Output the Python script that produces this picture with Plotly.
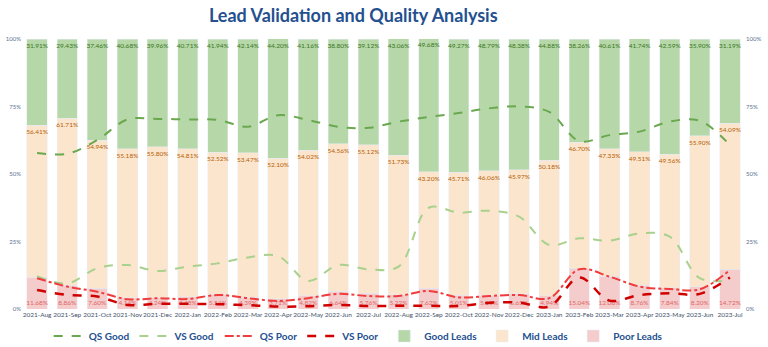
import plotly.graph_objects as go

months = ["2021-Aug","2021-Sep","2021-Oct","2021-Nov","2021-Dec","2022-Jan","2022-Feb","2022-Mar",
          "2022-Apr","2022-May","2022-Jun","2022-Jul","2022-Aug","2022-Sep","2022-Oct","2022-Nov",
          "2022-Dec","2023-Jan","2023-Feb","2023-Mar","2023-Apr","2023-May","2023-Jun","2023-Jul"]

good_leads = [31.91,29.43,37.46,40.68,39.96,40.71,41.94,42.14,44.20,41.16,38.80,39.12,
              43.06,49.68,49.27,48.79,48.38,44.88,38.26,40.61,41.74,42.59,35.90,31.19]
mid_leads = [56.41,61.71,54.94,55.18,55.80,54.81,52.52,53.47,52.10,54.02,54.56,55.12,
             51.73,43.20,45.71,46.06,45.97,50.18,46.70,47.33,49.51,49.56,55.90,54.09]
poor_leads = [11.68,8.86,7.60,4.14,4.24,4.48,5.54,4.39,3.71,4.82,6.64,5.76,
              5.22,7.62,5.01,5.15,5.65,4.94,15.04,12.06,8.76,7.84,8.20,14.72]

qs_good = [57.8,57.5,62.6,70.2,70.4,70.2,70.0,67.5,71.8,70.0,67.5,67.1,
           69.4,71.1,72.6,74.3,75.0,73.0,62.2,64.4,65.7,69.4,69.7,60.7]
vs_good = [12.2,9.5,15.1,16.3,14.1,15.7,16.9,19.1,19.6,10.4,16.3,14.7,
           15.7,37.5,35.7,36.4,34.2,23.7,26.2,25.3,28.0,26.8,11.4,10.7]
qs_poor = [11.4,8.3,6.4,3.6,4.0,3.7,5.2,4.0,3.0,4.0,5.6,4.8,
           4.8,6.7,4.3,4.8,5.2,4.0,14.7,12.0,8.3,7.4,7.3,14.4]
vs_poor = [7.0,5.2,4.6,1.5,1.9,1.9,1.8,1.4,0.9,1.0,1.5,1.1,
           1.2,1.2,1.1,2.3,2.4,0.9,11.7,3.1,5.2,5.8,5.6,11.7]

FONT = "Lato"

def pct(v):
    return [f"{x:.2f}%" for x in v]

fig = go.Figure()

# Bars (100% stacked): poor bottom, mid, good top
fig.add_trace(go.Bar(x=months, y=[v/100 for v in poor_leads], name="Poor Leads",
                     marker=dict(color="#f4cccc"), text=pct(poor_leads),
                     textposition="inside", insidetextanchor="start", constraintext="none",
                     textangle=0, textfont=dict(size=6.5, color="#e06666", family=FONT),
                     legendrank=7))
fig.add_trace(go.Bar(x=months, y=[v/100 for v in mid_leads], name="Mid Leads",
                     marker=dict(color="#fce5cd"), text=pct(mid_leads),
                     textposition="inside", insidetextanchor="end", constraintext="none",
                     textangle=0, textfont=dict(size=6.5, color="#b45f06", family=FONT),
                     legendrank=6))
fig.add_trace(go.Bar(x=months, y=[v/100 for v in good_leads], name="Good Leads",
                     marker=dict(color="#b6d7a8"), text=pct(good_leads),
                     textposition="inside", insidetextanchor="end", constraintext="none",
                     textangle=0, textfont=dict(size=6.5, color="#38761d", family=FONT),
                     legendrank=5))

# Lines
fig.add_trace(go.Scatter(x=months, y=[v/100 for v in qs_good], name="QS Good", mode="lines",
                         line=dict(color="#6aa84f", width=2, dash="dash", shape="spline"),
                         yaxis="y2", legendrank=1))
fig.add_trace(go.Scatter(x=months, y=[v/100 for v in vs_good], name="VS Good", mode="lines",
                         line=dict(color="#a9d18e", width=2, dash="dash", shape="spline"),
                         yaxis="y2", legendrank=2))
fig.add_trace(go.Scatter(x=months, y=[v/100 for v in qs_poor], name="QS Poor", mode="lines",
                         line=dict(color="#f03c3c", width=2, dash="dashdot", shape="spline"),
                         yaxis="y2", legendrank=3))
fig.add_trace(go.Scatter(x=months, y=[v/100 for v in vs_poor], name="VS Poor", mode="lines",
                         line=dict(color="#d00000", width=2.5, dash="dash", shape="spline"),
                         yaxis="y2", legendrank=4))

axis_tick = dict(size=6, color="#5a6f8f", family=FONT)
fig.update_layout(
    width=768, height=347,
    barmode="stack", bargap=0.33,
    paper_bgcolor="white", plot_bgcolor="white",
    margin=dict(l=22, r=23, t=39, b=38, autoexpand=False),
    title=dict(text="<b>Lead Validation and Quality Analysis</b>", x=0.46, xanchor="center",
               xref="container", y=0.955, yanchor="middle",
               font=dict(size=18, color="#24508f", family=FONT)),
    font=dict(family=FONT),
    xaxis=dict(tickfont=dict(size=6.5, color="#44546a", family=FONT), showgrid=False,
               showline=False, ticks="", tickangle=0),
    yaxis=dict(range=[0, 1], tickvals=[0, 0.25, 0.5, 0.75, 1], tickformat=".0%",
               tickfont=axis_tick, showgrid=False, zeroline=False),
    yaxis2=dict(range=[0, 1], tickvals=[0, 0.25, 0.5, 0.75, 1], tickformat=".0%",
                tickfont=axis_tick, showgrid=False, zeroline=False,
                overlaying="y", side="right"),
    legend=dict(orientation="h", x=0.465, xanchor="center", y=-0.1, yanchor="middle",
                font=dict(size=10, color="#24508f", family=FONT, weight="bold"),
                traceorder="normal", itemwidth=30, tracegroupgap=0),
    showlegend=True,
)

fig.write_html("out.html")
